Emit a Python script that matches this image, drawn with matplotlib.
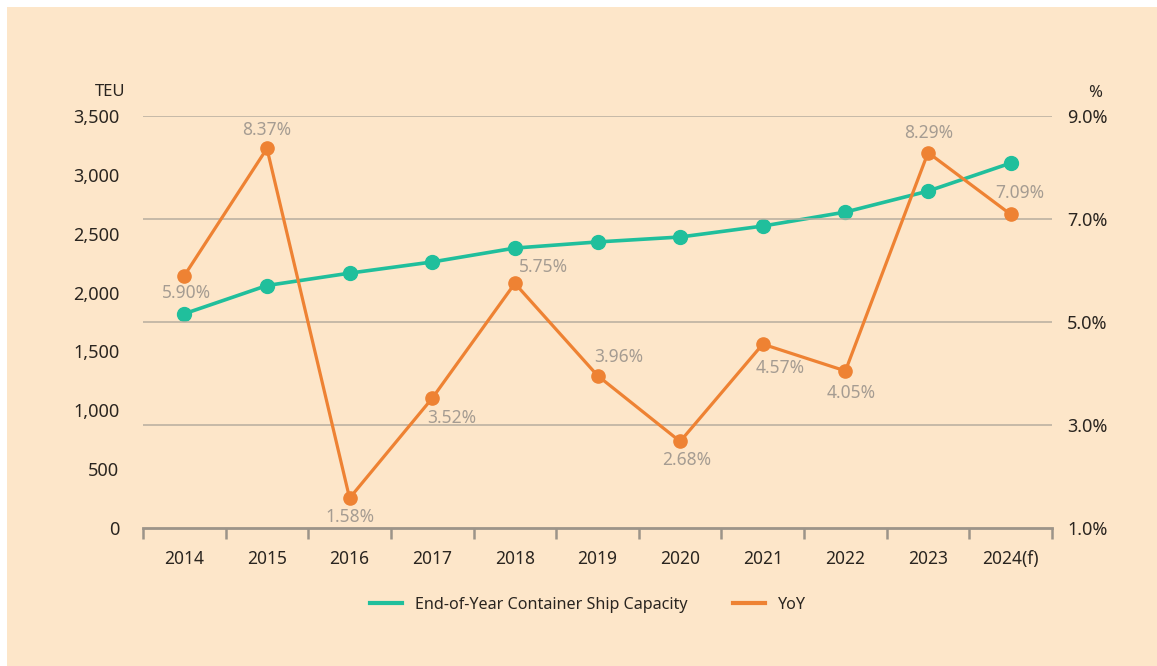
import matplotlib.pyplot as plt
from matplotlib.patches import Rectangle

# datos
anios = ['2014', '2015', '2016', '2017', '2018', '2019', '2020', '2021', '2022', '2023', '2024(f)']
capacidad = [1820, 2060, 2165, 2260, 2378, 2430, 2472, 2565, 2684, 2862, 3100]
yoy = [5.90, 8.37, 1.58, 3.52, 5.75, 3.96, 2.68, 4.57, 4.05, 8.29, 7.09]
etiquetas_yoy = ['5.90%', '8.37%', '1.58%', '3.52%', '5.75%', '3.96%', '2.68%', '4.57%', '4.05%', '8.29%', '7.09%']
ticks_teu = [0, 500, 1000, 1500, 2000, 2500, 3000, 3500]
ticks_pct = [1.0, 3.0, 5.0, 7.0, 9.0]

# posicion de cada etiqueta respecto del punto (pixeles)
desplazamientos = [(2, -17), (0, 18), (0, -19), (20, -20), (29, 16), (21, 19),
                   (7, -19), (17, -24), (6, -22), (1, 20), (9, 21)]

FONDO = '#fde6c9'
VERDE = '#20bf9c'
NARANJA = '#ee8233'
TEXTO = '#2a2520'
GRIS = '#a59c92'

plt.rcParams['font.family'] = ['Noto Sans', 'DejaVu Sans']

fig = plt.figure(figsize=(11.57, 6.66), dpi=100, facecolor='white')
fig.patches.append(Rectangle((7 / 1157, 0), 1, 1 - 7 / 666, transform=fig.transFigure,
                             facecolor=FONDO, edgecolor='none', zorder=-10))

ax = fig.add_axes([143 / 1157, 138 / 666, 909 / 1157, 412 / 666])
ax2 = ax.twinx()
ax.set_facecolor('none')
ax2.set_facecolor('none')

x = list(range(len(anios)))

# lineas de grilla del eje derecho
ax2.set_ylim(1.0, 9.0)
ax2.set_yticks(ticks_pct)
ax2.set_yticklabels([f'{t:.1f}%' for t in ticks_pct])
for t in ticks_pct[1:]:
    ax2.axhline(t, color='#b7ad9f', lw=1.1, zorder=1)

ax.set_ylim(0, 3500)
ax.set_yticks(ticks_teu)
ax.set_yticklabels([f'{t:,}' for t in ticks_teu])
ax.set_xlim(-0.5, len(anios) - 0.5)
ax.set_xticks(x)
ax.set_xticklabels(anios)
ax.set_xticks([i - 0.5 for i in range(len(anios) + 1)], minor=True)

ax.plot(x, capacidad, color=VERDE, lw=2.6, marker='o', markersize=10, zorder=4,
        label='End-of-Year Container Ship Capacity')
ax2.plot(x, yoy, color=NARANJA, lw=2.3, marker='o', markersize=9.5, zorder=5, label='YoY')

for xi, v, txt, d in zip(x, yoy, etiquetas_yoy, desplazamientos):
    ax2.annotate(txt, (xi, v), xytext=d, textcoords='offset pixels', ha='center', va='center',
                 fontsize=12.5, color=GRIS, zorder=6)

for a in (ax, ax2):
    for s in ('top', 'left', 'right', 'bottom'):
        a.spines[s].set_visible(False)
ax.spines['bottom'].set_visible(True)
ax.spines['bottom'].set_color('#9c9489')
ax.spines['bottom'].set_linewidth(2)

ax.tick_params(axis='x', which='major', length=0, pad=16, labelsize=12.5, labelcolor=TEXTO)
ax.tick_params(axis='x', which='minor', length=8, width=1.8, color='#9c9489')
ax.tick_params(axis='y', length=0, pad=17, labelsize=13, labelcolor=TEXTO)
ax2.tick_params(axis='y', length=0, pad=11, labelsize=13, labelcolor=TEXTO)

fig.text(125 / 1157, 1 - 92 / 666, 'TEU', ha='right', va='center', fontsize=12, color=TEXTO)
fig.text(1095 / 1157, 1 - 93 / 666, '%', ha='center', va='center', fontsize=12, color=TEXTO)

h1, l1 = ax.get_legend_handles_labels()
h2, l2 = ax2.get_legend_handles_labels()
fig.legend([plt.Line2D([], [], color=VERDE, lw=3), plt.Line2D([], [], color=NARANJA, lw=3)],
           l1 + l2, loc='center', bbox_to_anchor=(588 / 1157, 1 - 605 / 666), ncol=2,
           frameon=False, fontsize=11.6, handlelength=2.0, columnspacing=2.8,
           labelcolor=TEXTO)

fig.savefig('out.png', dpi=100, facecolor=fig.get_facecolor())
